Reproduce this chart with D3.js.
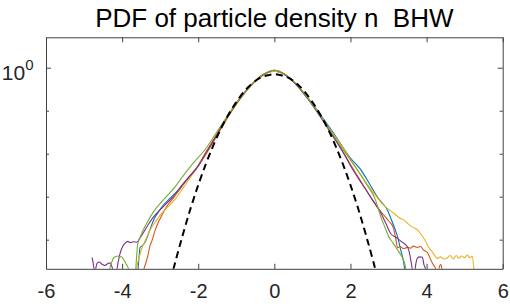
<!DOCTYPE html>
<html>
<head>
<meta charset="utf-8">
<script src="https://cdn.jsdelivr.net/npm/d3@7"></script>
<style>
  body { margin: 0; background: #fff; }
  svg { display: block; font-family: "Liberation Sans", Arial, Helvetica, sans-serif; }
</style>
</head>
<body>
<div id="chart"></div>
<script>
// ---- data: [x, log10(pdf)] ----
const blueSeries = [[-3.66,-5.0],[-3.58,-4.66],[-3.55,-4.35],[-3.53,-4.19],[-3.47,-4.14],[-3.40,-4.06],[-3.34,-3.94],[-3.25,-3.72],[-3.15,-3.50],[-3.05,-3.36],[-2.92,-3.20],[-2.79,-3.08],[-2.6,-2.92],[-2.4,-2.72],[-2.2,-2.50],[-2.0,-2.28],[-1.8,-1.98],[-1.5,-1.54],[-1.2,-1.10],[-0.9,-0.71],[-0.6,-0.40],[-0.3,-0.17],[0,-0.08],[0.3,-0.18],[0.6,-0.41],[0.9,-0.72],[1.2,-1.08],[1.5,-1.45],[1.8,-1.85],[2.0,-2.10],[2.26,-2.36],[2.5,-2.70],[2.74,-3.05],[2.85,-3.16],[2.97,-3.31],[3.08,-3.55],[3.18,-3.78],[3.25,-3.97],[3.32,-4.24],[3.38,-4.45],[3.42,-4.66],[3.46,-5.0]];
const orangeSeries = [[-3.50,-5.0],[-3.42,-4.66],[-3.38,-4.55],[-3.32,-4.36],[-3.27,-4.15],[-3.21,-4.01],[-3.14,-3.80],[-3.08,-3.66],[-2.95,-3.42],[-2.82,-3.22],[-2.70,-3.08],[-2.5,-2.85],[-2.3,-2.60],[-2.03,-2.31],[-1.8,-1.97],[-1.5,-1.53],[-1.2,-1.09],[-0.9,-0.70],[-0.6,-0.39],[-0.3,-0.16],[0,-0.07],[0.3,-0.17],[0.6,-0.41],[0.9,-0.74],[1.2,-1.12],[1.5,-1.52],[1.8,-1.95],[2.0,-2.25],[2.3,-2.68],[2.58,-3.08],[2.75,-3.30],[2.9,-3.45],[3.0,-3.56],[3.13,-3.73],[3.19,-3.98],[3.24,-4.19],[3.3,-4.16],[3.4,-4.21],[3.5,-4.18],[3.58,-4.20],[3.65,-4.15],[3.75,-4.18],[3.84,-4.16],[3.92,-4.24],[4.03,-4.31],[4.1,-4.45],[4.18,-4.59],[4.22,-4.64],[4.27,-4.75],[4.31,-4.78],[4.34,-4.62],[4.37,-4.58],[4.40,-4.66],[4.43,-4.95]];
const yellowSeries = [[-3.66,-5.0],[-3.60,-4.58],[-3.55,-4.40],[-3.47,-4.17],[-3.38,-4.00],[-3.26,-3.77],[-3.12,-3.58],[-3.0,-3.43],[-2.8,-3.24],[-2.6,-3.05],[-2.4,-2.80],[-2.2,-2.54],[-1.9,-2.16],[-1.5,-1.58],[-1.2,-1.13],[-0.9,-0.73],[-0.6,-0.41],[-0.3,-0.18],[0,-0.08],[0.3,-0.17],[0.6,-0.40],[0.9,-0.72],[1.2,-1.10],[1.5,-1.48],[1.8,-1.86],[2.13,-2.31],[2.4,-2.66],[2.6,-2.90],[2.79,-3.12],[2.95,-3.26],[3.13,-3.38],[3.3,-3.50],[3.4,-3.54],[3.5,-3.62],[3.65,-3.72],[3.75,-3.76],[3.84,-3.86],[3.95,-4.0],[4.05,-4.17],[4.15,-4.28],[4.22,-4.38],[4.29,-4.44],[4.36,-4.40],[4.45,-4.45],[4.55,-4.42],[4.62,-4.37],[4.7,-4.45],[4.78,-4.37],[4.85,-4.43],[4.92,-4.38],[5.0,-4.42],[5.07,-4.36],[5.14,-4.42],[5.2,-4.38],[5.24,-4.66],[5.27,-5.0]];
const purpleSeries = [[-4.80,-4.42],[-4.78,-4.45],[-4.74,-4.66],[-4.71,-4.72],[-4.66,-4.55],[-4.6,-4.52],[-4.53,-4.57],[-4.45,-4.60],[-4.38,-4.56],[-4.32,-4.54],[-4.27,-4.62],[-4.24,-4.70],[-4.15,-4.72],[-4.1,-4.50],[-4.05,-4.31],[-3.98,-4.15],[-3.92,-4.08],[-3.85,-4.04],[-3.79,-4.07],[-3.70,-4.05],[-3.61,-4.06],[-3.53,-3.96],[-3.45,-3.85],[-3.32,-3.66],[-3.2,-3.50],[-2.95,-3.26],[-2.7,-3.04],[-2.4,-2.70],[-2.0,-2.29],[-1.8,-2.00],[-1.5,-1.55],[-1.2,-1.11],[-0.9,-0.72],[-0.6,-0.40],[-0.3,-0.17],[0,-0.06],[0.3,-0.17],[0.6,-0.42],[0.9,-0.75],[1.2,-1.13],[1.5,-1.54],[1.8,-1.96],[2.0,-2.28],[2.3,-2.70],[2.53,-3.01],[2.8,-3.38],[2.93,-3.62],[3.05,-3.85],[3.2,-3.95],[3.35,-4.05],[3.5,-4.17],[3.56,-4.35],[3.6,-4.55],[3.64,-4.75],[3.68,-4.78],[3.72,-4.55],[3.76,-4.43],[3.82,-4.40],[3.89,-4.41],[3.93,-4.58],[3.97,-4.68],[4.01,-5.0]];
const greenSeries = [[-4.36,-5.0],[-4.32,-4.66],[-4.27,-4.52],[-4.22,-4.42],[-4.18,-4.40],[-4.12,-4.38],[-4.08,-4.39],[-4.02,-4.40],[-3.97,-4.45],[-3.90,-4.56],[-3.84,-4.66],[-3.80,-4.85],[-3.68,-4.85],[-3.64,-4.66],[-3.62,-4.40],[-3.59,-4.10],[-3.53,-3.95],[-3.47,-3.82],[-3.36,-3.63],[-3.26,-3.47],[-3.1,-3.26],[-2.92,-3.08],[-2.6,-2.76],[-2.4,-2.52],[-2.16,-2.25],[-1.8,-1.88],[-1.5,-1.48],[-1.2,-1.08],[-0.9,-0.70],[-0.6,-0.40],[-0.3,-0.16],[0,-0.06],[0.3,-0.16],[0.6,-0.40],[0.9,-0.73],[1.2,-1.10],[1.5,-1.50],[1.8,-1.90],[2.13,-2.31],[2.4,-2.68],[2.66,-3.08],[2.79,-3.45],[2.9,-3.70],[3.0,-3.92],[3.12,-4.08],[3.24,-4.24],[3.32,-4.35],[3.39,-4.47],[3.45,-4.66],[3.49,-5.0]];
// gaussian reference (dashed)
const gaussSeries = [[-2.8,-5.21],[-2.6,-4.51],[-2.4,-3.87],[-2.2,-3.27],[-2.0,-2.73],[-1.8,-2.24],[-1.6,-1.80],[-1.4,-1.41],[-1.2,-1.08],[-1.0,-0.80],[-0.8,-0.56],[-0.6,-0.38],[-0.4,-0.25],[-0.2,-0.18],[0,-0.15],[0.2,-0.18],[0.4,-0.25],[0.6,-0.38],[0.8,-0.56],[1.0,-0.80],[1.2,-1.08],[1.4,-1.41],[1.6,-1.80],[1.8,-2.24],[2.0,-2.73],[2.2,-3.27],[2.4,-3.87],[2.6,-4.51],[2.8,-5.21]];

const seriesList = [blueSeries, orangeSeries, yellowSeries, purpleSeries, greenSeries];
const seriesColors = ['#0072BD', '#D95319', '#EDB120', '#7E2F8E', '#77AC30'];

const xTicks = [-6, -4, -2, 0, 2, 4, 6];
const yMajorTicks = [1];
const yMinorTicks = [1e-4, 1e-3, 1e-2, 1e-1];
const xDomain = [-6, 6];
const yDomain = [2.1e-5, 5.1];
const titleText = 'PDF of particle density n  BHW';

class PdfChart {
  constructor(_config) {
    this.config = {
      parentElement: _config.parentElement,
      containerWidth: _config.containerWidth || 510,
      containerHeight: _config.containerHeight || 304,
      margin: _config.margin || {top: 37.3, right: 7.3, bottom: 35.2, left: 46}
    };
    this.initVis();
  }

  initVis() {
    let vis = this;
    const m = vis.config.margin;
    vis.width = vis.config.containerWidth - m.left - m.right;
    vis.height = vis.config.containerHeight - m.top - m.bottom;

    vis.svg = d3.select(vis.config.parentElement).append('svg')
        .attr('width', vis.config.containerWidth)
        .attr('height', vis.config.containerHeight);

    vis.chart = vis.svg.append('g')
        .attr('transform', `translate(${m.left},${m.top})`);

    vis.xScale = d3.scaleLinear().domain(xDomain).range([0, vis.width]);
    vis.yScale = d3.scaleLog().domain(yDomain).range([vis.height, 0]);

    vis.svg.append('defs').append('clipPath').attr('id', 'plot-clip')
      .append('rect').attr('width', vis.width).attr('height', vis.height);

    vis.renderVis();
  }

  renderVis() {
    let vis = this;
    const line = d3.line()
        .x(d => vis.xScale(d[0]))
        .y(d => vis.yScale(Math.pow(10, d[1])))
        .curve(d3.curveMonotoneX);

    const lines = vis.chart.append('g').attr('clip-path', 'url(#plot-clip)');

    lines.selectAll('.pdf-line')
        .data(seriesList)
      .join('path')
        .attr('class', 'pdf-line')
        .attr('d', line)
        .attr('fill', 'none')
        .attr('stroke', (d, i) => seriesColors[i])
        .attr('stroke-width', 1.1);

    lines.append('path')
        .datum(gaussSeries)
        .attr('d', line)
        .attr('fill', 'none')
        .attr('stroke', '#000')
        .attr('stroke-width', 2)
        .attr('stroke-dasharray', '7,4.5');

    // axes: MATLAB style box with inward ticks
    const axisColor = '#404040';
    const xBottom = d3.axisBottom(vis.xScale).tickValues(xTicks).tickSize(-5).tickPadding(15).tickSizeOuter(0)
        .tickFormat(d3.format('d'));
    vis.chart.append('g')
        .attr('class', 'x-axis')
        .attr('transform', `translate(0,${vis.height})`)
        .call(xBottom)
        .call(g => g.select('.domain').attr('stroke', axisColor))
        .call(g => g.selectAll('.tick line').attr('stroke', axisColor))
        .call(g => g.selectAll('.tick text')
            .attr('fill', '#262626')
            .style('font-size', '20px')
            .text(d => d < 0 ? '-' + Math.abs(d) : d));

    vis.chart.append('g')
        .attr('class', 'x-axis-top')
        .call(d3.axisTop(vis.xScale).tickValues(xTicks).tickSize(-5).tickSizeOuter(0).tickFormat(''))
        .call(g => g.select('.domain').attr('stroke', axisColor))
        .call(g => g.selectAll('.tick line').attr('stroke', axisColor));

    const yTickGroup = (axisFn, tx) => {
      const g = vis.chart.append('g').attr('transform', `translate(${tx},0)`);
      g.call(axisFn(vis.yScale).tickValues(yMajorTicks).tickSize(-5).tickSizeOuter(0).tickFormat(''))
        .call(s => s.select('.domain').attr('stroke', axisColor))
        .call(s => s.selectAll('.tick line').attr('stroke', axisColor));
      g.append('g')
        .call(axisFn(vis.yScale).tickValues(yMinorTicks).tickSize(-3).tickSizeOuter(0).tickFormat(''))
        .call(s => s.select('.domain').remove())
        .call(s => s.selectAll('.tick line').attr('stroke', axisColor));
      return g;
    };
    yTickGroup(d3.axisLeft, 0);
    yTickGroup(d3.axisRight, vis.width);

    // 10^0 label
    const yLabels = vis.chart.append('g').attr('class', 'y-labels');
    yLabels.selectAll('text')
        .data(yMajorTicks)
      .join('text')
        .attr('x', -12.5)
        .attr('y', d => vis.yScale(d) + 12.5)
        .attr('text-anchor', 'end')
        .attr('fill', '#262626')
        .style('font-size', '21px')
        .call(t => {
          t.append('tspan').text('10');
          t.append('tspan').attr('dy', -10).style('font-size', '15px').text(d => Math.round(Math.log10(d)));
        });

    vis.svg.append('text')
        .attr('x', vis.config.margin.left + vis.width / 2)
        .attr('y', 27)
        .attr('text-anchor', 'middle')
        .attr('fill', '#000')
        .style('font-size', '26px')
        .style('white-space', 'pre')
        .text(titleText);
  }
}

new PdfChart({parentElement: '#chart'});
</script>
</body>
</html>
